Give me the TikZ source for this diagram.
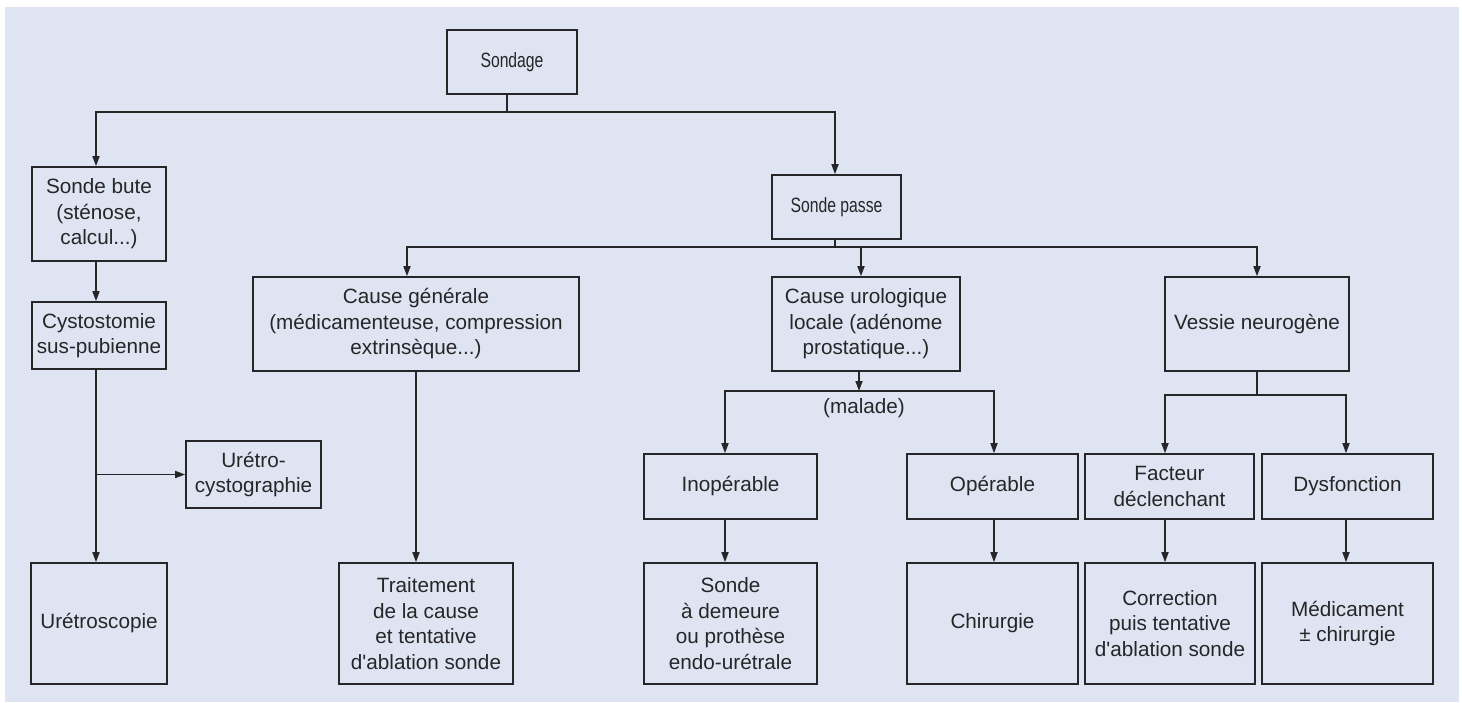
\documentclass[tikz,border=0pt]{standalone}
\usepackage{fontspec}
\setmainfont{Liberation Sans}
\newfontfamily\plainfont{Liberation Sans}
\newfontfamily\narrowfont[FakeStretch=0.76]{Liberation Sans}
\usetikzlibrary{arrows.meta}
\definecolor{bgc}{RGB}{223,228,242}
\definecolor{ink}{RGB}{38,38,40}
\begin{document}
\begin{tikzpicture}[x=1pt,y=-1pt,
  ln/.style={draw=ink,line width=1.6pt},
  arr/.style={ln,-{Triangle[length=10pt,width=7pt]}},
  box/.style={draw=ink,line width=1.6pt,align=center,inner sep=2pt,text=ink,
    font=\plainfont\fontsize{20.7}{25.5}\selectfont},
  narrow/.style={font=\narrowfont\fontsize{20.7}{25.5}\selectfont},
  lab/.style={text=ink,font=\plainfont\fontsize{20.7}{25.5}\selectfont}]
\fill[white] (0,0) rectangle (1462,702);
\useasboundingbox (0,0) rectangle (1462,702);
\fill[bgc] (5,7) rectangle (1459,702);
% nodes
\node[box,narrow,minimum width=130pt,minimum height=64pt] (sondage) at (512,62) {Sondage};
\node[box,minimum width=134pt,minimum height=94pt] (bute) at (99,214) {Sonde bute\\(sténose,\\calcul...)};
\node[box,narrow,minimum width=129pt,minimum height=64pt] (passe) at (836.5,207) {Sonde passe};
\node[box,minimum width=134pt,minimum height=67pt] (cysto) at (99,335.5) {Cystostomie\\sus-pubienne};
\node[box,minimum width=135pt,minimum height=67pt] (uretro) at (253.5,474.5) {Urétro-\\cystographie};
\node[box,minimum width=136pt,minimum height=121pt] (urscopie) at (99,623.5) {Urétroscopie};
\node[box,minimum width=326pt,minimum height=94pt] (generale) at (416,324) {Cause générale\\(médicamenteuse, compression\\extrinsèque...)};
\node[box,minimum width=188pt,minimum height=94pt] (urolog) at (866,324) {Cause urologique\\locale (adénome\\prostatique...)};
\node[box,minimum width=184pt,minimum height=94pt] (vessie) at (1257,324) {Vessie neurogène};
\node[box,minimum width=174pt,minimum height=121pt] (traitement) at (426,623.5) {Traitement\\de la cause\\et tentative\\d'ablation sonde};
\node[box,minimum width=173pt,minimum height=65pt] (inop) at (730.5,486.5) {Inopérable};
\node[box,minimum width=171pt,minimum height=65pt] (op) at (992.5,486.5) {Opérable};
\node[box,minimum width=169pt,minimum height=65pt] (facteur) at (1169.5,486.5) {Facteur\\déclenchant};
\node[box,minimum width=171pt,minimum height=65pt] (dysf) at (1347.5,486.5) {Dysfonction};
\node[box,minimum width=173pt,minimum height=121pt] (sonde) at (730.5,623.5) {Sonde\\à demeure\\ou prothèse\\endo-urétrale};
\node[box,minimum width=171pt,minimum height=121pt] (chir) at (992.5,623.5) {Chirurgie};
\node[box,minimum width=170pt,minimum height=121pt] (correction) at (1170,623.5) {Correction\\puis tentative\\d'ablation sonde};
\node[box,minimum width=171pt,minimum height=121pt] (medic) at (1347.5,623.5) {Médicament\\± chirurgie};
\node[lab] (malade) at (864,408) {(malade)};
% reference coordinates
\coordinate (j1) at (507,112);
\coordinate (j2) at (835,247);
\coordinate (j4) at (859,391);
\coordinate (j5) at (1257,395);
\coordinate (xl) at (96,0);
\coordinate (xg) at (407,0);
\coordinate (xu) at (861,0);
\coordinate (xi) at (725,0);
\coordinate (xo) at (994,0);
\coordinate (xf) at (1165,0);
\coordinate (xd) at (1346,0);
% connectors
\draw[ln] (sondage.south -| j1) -- (j1);
\draw[arr] (j1) -| (bute.north -| xl);
\draw[arr] (j1) -| (passe.north -| j2);
\draw[ln] (passe.south -| j2) -- (j2);
\draw[arr] (j2) -| (generale.north -| xg);
\draw[arr] (j2) -| (urolog.north -| xu);
\draw[arr] (j2) -| (vessie.north);
\draw[arr] (bute.south -| xl) -- (cysto.north -| xl);
\draw[arr] (cysto.south -| xl) -- (urscopie.north -| xl);
\draw[arr] (uretro.west -| xl) -- (uretro.west);
\draw[arr] (generale.south) -- (generale.south |- traitement.north);
\draw[arr] (urolog.south -| j4) -- (j4);
\draw[arr] (j4) -| (inop.north -| xi);
\draw[arr] (j4) -| (op.north -| xo);
\draw[arr] (inop.south -| xi) -- (sonde.north -| xi);
\draw[arr] (op.south -| xo) -- (chir.north -| xo);
\draw[ln] (vessie.south -| j5) -- (j5);
\draw[arr] (j5) -| (facteur.north -| xf);
\draw[arr] (j5) -| (dysf.north -| xd);
\draw[arr] (facteur.south -| xf) -- (correction.north -| xf);
\draw[arr] (dysf.south -| xd) -- (medic.north -| xd);
\end{tikzpicture}
\end{document}
